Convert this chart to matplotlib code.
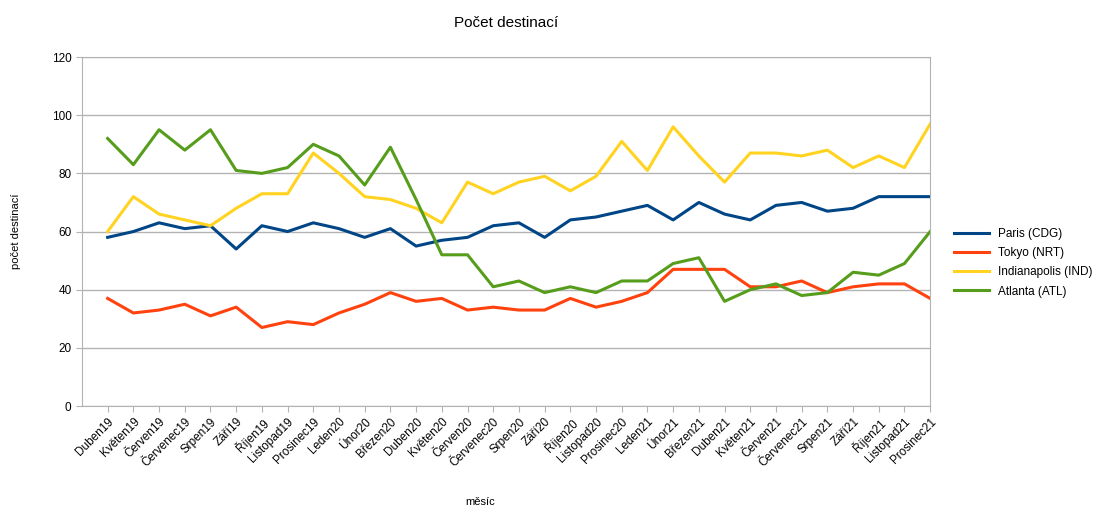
import numpy as np
import matplotlib.pyplot as plt

plt.rcParams['font.family'] = ['Liberation Sans', 'DejaVu Sans']

months = ['Duben19', 'Květen19', 'Červen19', 'Červenec19', 'Srpen19', 'Září19', 'Říjen19',
          'Listopad19', 'Prosinec19', 'Leden20', 'Únor20', 'Březen20', 'Duben20', 'Květen20',
          'Červen20', 'Červenec20', 'Srpen20', 'Září20', 'Říjen20', 'Listopad20', 'Prosinec20',
          'Leden21', 'Únor21', 'Březen21', 'Duben21', 'Květen21', 'Červen21', 'Červenec21',
          'Srpen21', 'Září21', 'Říjen21', 'Listopad21', 'Prosinec21']

paris = [58, 60, 63, 61, 62, 54, 62, 60, 63, 61, 58, 61, 55, 57, 58, 62, 63, 58, 64, 65, 67,
         69, 64, 70, 66, 64, 69, 70, 67, 68, 72, 72, 72]
tokyo = [37, 32, 33, 35, 31, 34, 27, 29, 28, 32, 35, 39, 36, 37, 33, 34, 33, 33, 37, 34, 36,
         39, 47, 47, 47, 41, 41, 43, 39, 41, 42, 42, 37]
indianapolis = [60, 72, 66, 64, 62, 68, 73, 73, 87, 80, 72, 71, 68, 63, 77, 73, 77, 79, 74, 79, 91,
                81, 96, 86, 77, 87, 87, 86, 88, 82, 86, 82, 97]
atlanta = [92, 83, 95, 88, 95, 81, 80, 82, 90, 86, 76, 89, 71, 52, 52, 41, 43, 39, 41, 39, 43,
           43, 49, 51, 36, 40, 42, 38, 39, 46, 45, 49, 60]

series = [('Paris (CDG)', paris, '#004586'),
          ('Tokyo (NRT)', tokyo, '#ff420e'),
          ('Indianapolis (IND)', indianapolis, '#ffd320'),
          ('Atlanta (ATL)', atlanta, '#579d1c')]

fig = plt.figure(figsize=(11.18, 5.05), dpi=100)
ax = fig.add_axes([0.0733, 0.196, 0.7587, 0.691])

x = np.arange(len(months))
for name, vals, col in series:
    ax.plot(x, vals, color=col, lw=2.2, label=name)

ax.set_xlim(-1, len(months) - 1)
ax.set_ylim(0, 120)
ax.set_yticks(range(0, 121, 20))
ax.set_xticks(x)
ax.set_xticklabels(months, rotation=45, ha='right', rotation_mode='anchor', fontsize=8.5)
ax.tick_params(axis='y', labelsize=8.5, length=4, color='#b3b3b3')
ax.tick_params(axis='x', length=4, color='#b3b3b3', pad=3)
ax.grid(axis='y', color='#b3b3b3', lw=1)
ax.set_axisbelow(True)
for s in ax.spines.values():
    s.set_color('#b3b3b3')

ax.set_title('Počet destinací', fontsize=11, pad=22)
ax.set_ylabel('počet destinací', fontsize=8, labelpad=22)
ax.set_xlabel('měsíc', fontsize=8)
ax.xaxis.set_label_coords(0.469, -0.26)

ax.legend(loc='center left', bbox_to_anchor=(1.015, 0.41), frameon=False, fontsize=8.5,
          handlelength=3, labelspacing=0.6)

fig.savefig('out.png', dpi=100)
